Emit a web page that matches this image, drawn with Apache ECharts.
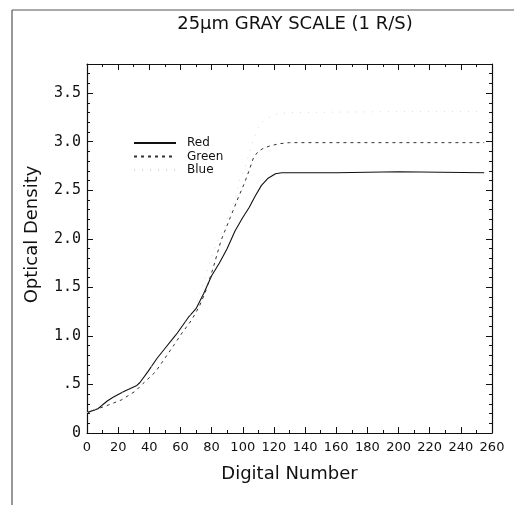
<!DOCTYPE html>
<html>
<head>
<meta charset="utf-8">
<script src="https://cdn.jsdelivr.net/npm/echarts@6/dist/echarts.min.js"></script>
<style>
  html, body { margin: 0; padding: 0; background: #fff; }
  #chart { width: 514px; height: 505px; }
</style>
</head>
<body>
<div id="chart"></div>
<script>
// Optical density response curves for the 25 µm gray scale
var redDN   = [0, 7, 13, 17, 24, 32, 34, 39, 45, 50, 56, 58, 65, 70, 75, 80, 85, 90, 95, 100, 104, 108, 112, 116, 121, 125, 130, 160, 200, 255];
var redOD   = [0.21, 0.25, 0.33, 0.37, 0.43, 0.49, 0.52, 0.63, 0.77, 0.87, 0.99, 1.03, 1.19, 1.28, 1.44, 1.62, 1.75, 1.90, 2.08, 2.22, 2.32, 2.44, 2.55, 2.62, 2.67, 2.68, 2.68, 2.68, 2.69, 2.68];

var greenDN = [0, 7, 14, 22, 31, 36, 44, 50, 56, 61, 67, 72, 76, 81, 86, 92, 97, 101, 104, 107, 110, 113, 118, 124, 130, 180, 255];
var greenOD = [0.21, 0.25, 0.29, 0.34, 0.43, 0.51, 0.63, 0.77, 0.91, 1.03, 1.16, 1.30, 1.45, 1.70, 1.98, 2.22, 2.42, 2.57, 2.70, 2.84, 2.90, 2.93, 2.96, 2.98, 2.99, 2.99, 2.99];

var blueDN  = [0, 10, 20, 30, 40, 50, 60, 70, 79, 83, 88, 92, 95, 98, 101, 106, 111, 120, 130, 200, 255];
var blueOD  = [0.21, 0.28, 0.38, 0.50, 0.66, 0.84, 1.05, 1.32, 1.76, 1.95, 2.12, 2.30, 2.40, 2.61, 2.71, 2.98, 3.19, 3.28, 3.30, 3.31, 3.31];

var xTicks = [0, 20, 40, 60, 80, 100, 120, 140, 160, 180, 200, 220, 240, 260];
var yTickLabels = { '0': '0', '0.5': '.5', '1': '1.0', '1.5': '1.5', '2': '2.0', '2.5': '2.5', '3': '3.0', '3.5': '3.5' };

function pairs(xs, ys) {
  return xs.map(function (x, i) { return [x, ys[i]]; });
}

var FONT = 'DejaVu Sans';
var INK = '#111';

var chart = echarts.init(document.getElementById('chart'), null, { renderer: 'canvas' });

function xAxisCfg(extra) {
  return Object.assign({
    type: 'value', min: 0, max: 260, interval: 20,
    axisLine: { show: true, onZero: false, lineStyle: { color: INK, width: 1.2 } },
    axisTick: { show: true, inside: true, length: 6, lineStyle: { color: INK } },
    minorTick: { show: true, splitNumber: 2, length: 3, lineStyle: { color: INK } },
    splitLine: { show: false }
  }, extra);
}
function yAxisCfg(extra) {
  return Object.assign({
    type: 'value', min: 0, max: 3.8, interval: 0.5,
    axisLine: { show: true, onZero: false, lineStyle: { color: INK, width: 1.2 } },
    axisTick: { show: true, inside: true, length: 6, lineStyle: { color: INK } },
    minorTick: { show: true, splitNumber: 5, length: 3, lineStyle: { color: INK } },
    splitLine: { show: false }
  }, extra);
}

chart.setOption({
  animation: false,
  backgroundColor: '#fff',
  title: {
    text: '25μm GRAY SCALE (1 R/S)',
    left: 290, top: 10, textAlign: 'center',
    textStyle: { fontFamily: FONT, fontSize: 18, fontWeight: 'normal', color: INK }
  },
  grid: { left: 87, right: 22, top: 64, bottom: 72, containLabel: false, outerBoundsMode: 'none' },
  legend: {
    orient: 'vertical', left: 128, top: 132,
    itemWidth: 42, itemHeight: 12, itemGap: 1.5,
    data: ['Red', 'Green', 'Blue'],
    itemStyle: { opacity: 0 },
    textStyle: { fontFamily: FONT, fontSize: 12, color: INK, padding: [0, 0, 0, 6] }
  },
  xAxis: [
    xAxisCfg({
      position: 'bottom',
      name: 'Digital Number', nameLocation: 'middle', nameGap: 32,
      nameTextStyle: { fontFamily: FONT, fontSize: 18, color: INK },
      axisLabel: { fontFamily: FONT, fontSize: 13, color: INK, margin: 8 }
    }),
    xAxisCfg({ position: 'top', axisLabel: { show: false } })
  ],
  yAxis: [
    yAxisCfg({
      position: 'left',
      name: 'Optical Density', nameLocation: 'middle', nameGap: 46,
      nameTextStyle: { fontFamily: FONT, fontSize: 18, color: INK, padding: [0, 0, 0, 28] },
      axisLabel: {
        fontFamily: 'DejaVu Sans Mono', fontSize: 15, color: INK, margin: 6,
        formatter: function (v) {
          var k = String(Math.round(v * 10) / 10);
          return yTickLabels[k] !== undefined ? yTickLabels[k] : '';
        }
      }
    }),
    yAxisCfg({ position: 'right', axisLabel: { show: false } })
  ],
  graphic: [
    { type: 'line', shape: { x1: 12, y1: 10, x2: 12, y2: 505 }, style: { stroke: '#555', lineWidth: 1.2 } },
    { type: 'line', shape: { x1: 12, y1: 10, x2: 514, y2: 10 }, style: { stroke: '#555', lineWidth: 1 } }
  ],
  series: [
    {
      name: 'Red', type: 'line', data: pairs(redDN, redOD),
      showSymbol: false, symbol: 'none',
      lineStyle: { color: '#111', width: 1.1, type: 'solid' },
      itemStyle: { color: '#111' }
    },
    {
      name: 'Green', type: 'line', data: pairs(greenDN, greenOD),
      showSymbol: false, symbol: 'none',
      lineStyle: { color: '#333', width: 1, type: [3, 4] },
      itemStyle: { color: '#333' }
    },
    {
      name: 'Blue', type: 'line', data: pairs(blueDN, blueOD),
      showSymbol: false, symbol: 'none',
      lineStyle: { color: '#d8d8d8', width: 1, type: [1, 7] },
      itemStyle: { color: '#eeeeee' }
    }
  ]
});
</script>
</body>
</html>
